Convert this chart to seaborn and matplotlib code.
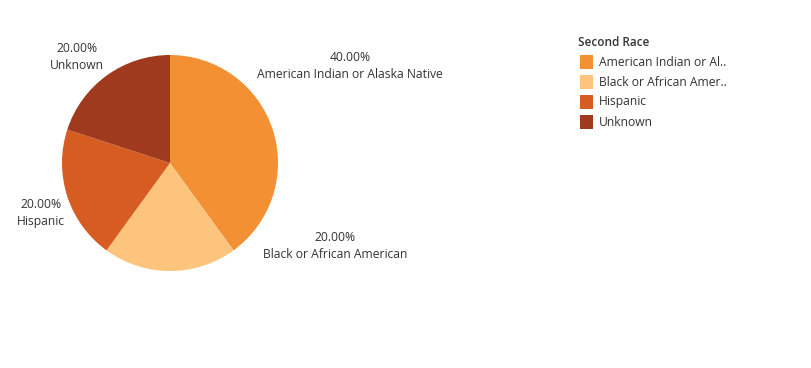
import matplotlib
matplotlib.use("Agg")
import matplotlib.pyplot as plt
from matplotlib.patches import Rectangle
import seaborn as sns

categories = ["American Indian or Alaska Native", "Black or African American", "Hispanic", "Unknown"]
legend_labels = ["American Indian or Al..", "Black or African Amer..", "Hispanic", "Unknown"]
values = [40.0, 20.0, 20.0, 20.0]
colors = ["#F39033", "#FDC47E", "#D75C21", "#A03A1E"]
legend_title = "Second Race"

sns.set_theme(style="white")
plt.rcParams['font.family'] = ['Open Sans', 'DejaVu Sans']

W, H = 811, 368
fig = plt.figure(figsize=(W / 100, H / 100), dpi=100)
cx, cy, r = 170, 163, 108
ax = fig.add_axes([(cx - r) / W, (H - cy - r) / H, 2 * r / W, 2 * r / H])
ax.pie(values, colors=colors, startangle=90, counterclock=False, radius=1,
       wedgeprops=dict(linewidth=0))
ax.set_xlim(-1, 1)
ax.set_ylim(-1, 1)
ax.set_aspect('equal')
ax.axis('off')

txt_color = "#333333"
fs = 8.7
# label positions (pixel centres of the two-line labels)
label_pos = [(350, 66), (335, 246), (41, 213), (77, 57)]
for cat, v, (px, py) in zip(categories, values, label_pos):
    fig.text(px / W, 1 - py / H, f"{v:.2f}%\n{cat}", ha='center', va='center',
             fontsize=fs, color=txt_color, linespacing=1.35)

# legend
fig.text(578 / W, 1 - 43 / H, legend_title, ha='left', va='center', fontsize=8.5,
         fontweight='semibold', color=txt_color)
for i, (lab, c) in enumerate(zip(legend_labels, colors)):
    y = 62 + 20 * i
    fig.patches.append(Rectangle(((580) / W, 1 - (y + 7) / H), 13 / W, 14 / H,
                                 transform=fig.transFigure, facecolor=c, edgecolor='none'))
    fig.text(599 / W, 1 - y / H, lab, ha='left', va='center', fontsize=fs, color=txt_color)

fig.savefig("out.png", dpi=100)
